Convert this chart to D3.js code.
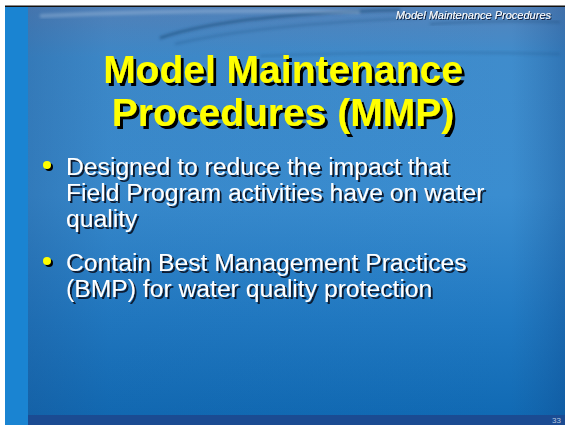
<!DOCTYPE html>
<html>
<head>
<meta charset="utf-8">
<script src="https://cdn.jsdelivr.net/npm/d3@7"></script>
<style>
  body { margin: 0; background: #fff; }
  svg { display: block; }
</style>
</head>
<body>
<div id="slide"></div>
<script>
// slide text
var headerText = "Model Maintenance Procedures";
var titleLines = ["Model Maintenance", "Procedures (MMP)"];
var bulletLines = [
    ["Designed to reduce the impact that", "Field Program activities have on water", "quality"],
    ["Contain Best Management Practices", "(BMP) for water quality protection"]
];
var pageNumber = "33";

const W = 565, H = 425;

let svg = d3.select('#slide').append('svg')
    .attr('width', W)
    .attr('height', H);

let defs = svg.append('defs');

// main vertical gradient of the water image
let bg = defs.append('linearGradient')
    .attr('id', 'bg')
    .attr('x1', 0).attr('y1', 0).attr('x2', 0).attr('y2', 1);
bg.append('stop').attr('offset', '0%').attr('stop-color', '#5584bb');
bg.append('stop').attr('offset', '12%').attr('stop-color', '#3f8ccc');
bg.append('stop').attr('offset', '45%').attr('stop-color', '#3a8dd0');
bg.append('stop').attr('offset', '75%').attr('stop-color', '#2079c2');
bg.append('stop').attr('offset', '100%').attr('stop-color', '#0f68b2');

// slightly darker edges of the image
let side = defs.append('linearGradient')
    .attr('id', 'side')
    .attr('x1', 0).attr('y1', 0).attr('x2', 1).attr('y2', 0);
side.append('stop').attr('offset', '0%').attr('stop-color', '#1d4f8a').attr('stop-opacity', 0.3);
side.append('stop').attr('offset', '15%').attr('stop-color', '#1d4f8a').attr('stop-opacity', 0.08);
side.append('stop').attr('offset', '90%').attr('stop-color', '#1d4f8a').attr('stop-opacity', 0);
side.append('stop').attr('offset', '100%').attr('stop-color', '#0d3f80').attr('stop-opacity', 0.3);

let blur = defs.append('filter').attr('id', 'blur')
    .attr('x', '-20%').attr('y', '-50%').attr('width', '140%').attr('height', '200%');
blur.append('feGaussianBlur').attr('stdDeviation', 1.5);

// text shadows
function shadow(id, dx, dy, sd, color) {
    defs.append('filter').attr('id', id)
        .attr('x', '-10%').attr('y', '-30%').attr('width', '120%').attr('height', '160%')
        .append('feDropShadow')
        .attr('dx', dx).attr('dy', dy).attr('stdDeviation', sd)
        .attr('flood-color', color).attr('flood-opacity', 1);
}
shadow('tshadow', 3, 3, 0.4, '#000');
shadow('bshadow', 2, 2, 0.5, '#0a1a30');
shadow('hshadow', 1, 1, 0.3, '#0a1f3a');

// white page margin, black top rule
svg.append('rect').attr('x', 0).attr('y', 0).attr('width', W).attr('height', H).style('fill', '#fff');
svg.append('rect').attr('x', 5).attr('y', 5.5).attr('width', W - 5).attr('height', 1.5).style('fill', '#111');

// light blue strip on the left
svg.append('rect').attr('x', 5).attr('y', 7).attr('width', 24).attr('height', H - 7).style('fill', '#1a84d2');

// water picture
svg.append('rect').attr('x', 28).attr('y', 7).attr('width', W - 28).attr('height', H - 7).style('fill', 'url(#bg)');
svg.append('rect').attr('x', 28).attr('y', 7).attr('width', W - 28).attr('height', H - 7).style('fill', 'url(#side)');

// ripples near the top
let ripples = [
    { d: 'M160,38 Q230,14 400,10', c: '#15456f', o: 0.6, w: 2.5 },
    { d: 'M175,44 Q260,24 420,18', c: '#1b4f80', o: 0.35, w: 2 },
    { d: 'M40,16 Q200,9 360,12', c: '#b7cde6', o: 0.35, w: 4 },
    { d: 'M260,56 Q400,50 560,54', c: '#1b4f80', o: 0.3, w: 2 },
    { d: 'M430,24 Q490,20 560,22', c: '#15456f', o: 0.4, w: 2 }
];
svg.append('g').selectAll('path')
    .data(ripples)
    .join('path')
    .attr('d', d => d.d)
    .style('fill', 'none')
    .style('stroke', d => d.c)
    .style('stroke-width', d => d.w)
    .style('opacity', d => d.o)
    .attr('filter', 'url(#blur)');

// bottom dark band
svg.append('rect').attr('x', 28).attr('y', 415).attr('width', W - 28).attr('height', 10).style('fill', '#1b4b92');

// header text, top right
svg.append('text').attr('x', 551).attr('y', 19).attr('text-anchor', 'end')
    .style('font-family', 'Liberation Sans, Arial, sans-serif')
    .style('font-size', '11px').style('font-style', 'italic')
    .style('fill', '#fff').attr('filter', 'url(#hshadow)')
    .text(headerText);

// title
svg.append('g')
    .style('font-family', 'Liberation Sans, Arial, sans-serif')
    .style('font-size', '39px').style('font-weight', 'bold')
    .attr('text-anchor', 'middle')
    .attr('filter', 'url(#tshadow)')
    .selectAll('text')
    .data(titleLines)
    .join('text')
    .attr('x', 283).attr('y', (d, i) => 83 + i * 43)
    .style('fill', '#ffff00').text(d => d);

// bullets
let lineH = 26;
let bulletTop = [175, 271];
let body = svg.append('g').style('font-family', 'Liberation Sans, Arial, sans-serif')
    .style('font-size', '24.7px');

bulletLines.forEach(function (lines, b) {
    let y0 = bulletTop[b];
    // bullet dot
    body.append('circle').attr('cx', 49).attr('cy', y0 - 8).attr('r', 4).style('fill', '#000');
    body.append('circle').attr('cx', 47).attr('cy', y0 - 10).attr('r', 4).style('fill', '#ffff00');

    body.append('g')
        .attr('filter', 'url(#bshadow)')
        .selectAll('text')
        .data(lines)
        .join('text')
        .attr('x', 66).attr('y', (d, i) => y0 + i * lineH)
        .style('fill', '#fff').text(d => d);
});

// page number
svg.append('text').attr('x', 561).attr('y', 423).attr('text-anchor', 'end')
    .style('font-family', 'Liberation Sans, Arial, sans-serif').style('font-size', '8px')
    .style('fill', '#b8c8e0').text(pageNumber);
</script>
</body>
</html>
